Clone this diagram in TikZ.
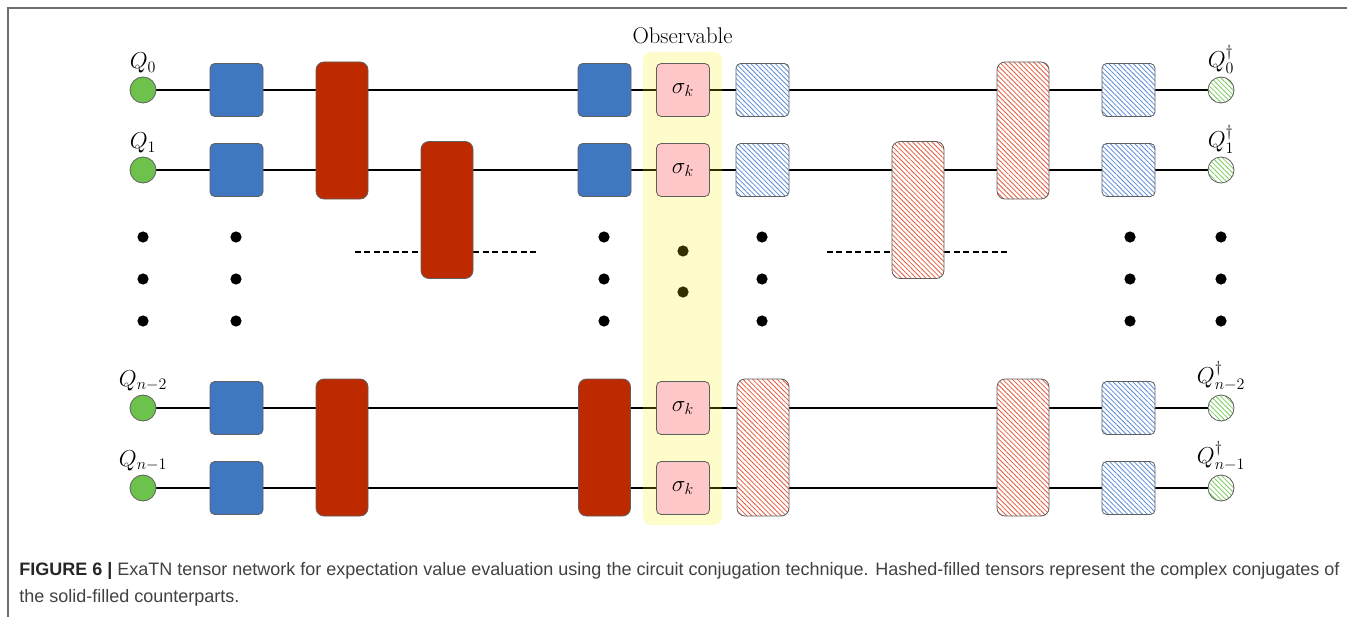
\documentclass[tikz,border=0pt]{standalone}
\usepackage{fontspec}
\setsansfont{Liberation Sans}
\usepackage{amsmath,amssymb}
\usepackage{tikz}
\usetikzlibrary{patterns.meta}
\definecolor{gateblue}{RGB}{63,120,192}
\definecolor{gatered}{RGB}{190,42,0}
\definecolor{qubitgreen}{RGB}{108,194,74}
\definecolor{sigmapink}{RGB}{255,200,200}
\definecolor{hashblue}{RGB}{90,140,215}
\definecolor{hashred}{RGB}{228,90,60}
\definecolor{hashgreen}{RGB}{120,205,90}
\definecolor{edgegray}{RGB}{95,95,95}
\definecolor{framegray}{RGB}{110,110,110}
\definecolor{captiongray}{RGB}{65,65,65}
\pgfdeclarelayer{wires}
\pgfdeclarelayer{obs}
\pgfsetlayers{wires,obs,main}

\begin{document}
\begin{tikzpicture}[x=0.75pt, y=-0.75pt,
    label distance=-1pt,
    every label/.append style={font=\LARGE},
    hatch/.style={preaction={fill=white},
        pattern={Lines[angle=-45, distance=2.6pt, line width=0.6pt]}},
    qubitbase/.style={circle, draw=edgegray, line width=0.6pt,
        minimum size=19.5pt, inner sep=0pt},
    qubit/.style={qubitbase, fill=qubitgreen},
    qubitconj/.style={qubitbase, hatch, pattern color=hashgreen},
    gatebase/.style={rectangle, draw=edgegray, line width=0.6pt,
        rounded corners=3.5pt, minimum width=39.75pt, minimum height=39.75pt, inner sep=0pt},
    gate/.style={gatebase, fill=gateblue},
    gateconj/.style={gatebase, hatch, pattern color=hashblue},
    sigmabox/.style={gatebase, fill=sigmapink, font=\LARGE},
    twobase/.style={rectangle, draw=edgegray, line width=0.6pt,
        rounded corners=6pt, minimum width=39pt, minimum height=102.75pt, inner sep=0pt},
    twogate/.style={twobase, fill=gatered},
    twogateconj/.style={twobase, hatch, pattern color=hashred},
    wire/.style={line width=1.4pt},
    dotline/.style={line width=1.4pt, dash pattern=on 4.5pt off 2.6pt},
    caption/.style={font=\sffamily\fontsize{13.5}{16}\selectfont, text=captiongray, inner sep=0pt}]

    \useasboundingbox (0,0) rectangle (1347,617);

    % Marco
    \draw[framegray, line width=1.2pt] (8,617) -- (8,8) -- (1347,8);

    % Qubits y compuertas de una fila
    \foreach \n/\y/\lab in {0/90/0, 1/170/1, 2/408/{n-2}, 3/488/{n-1}} {
        \node[qubit, label={above:$Q_{\lab}$}] (q\n) at (143,\y) {};
        \node[qubitconj, label={above:$Q^{\dagger}_{\lab}$}] (qc\n) at (1221,\y) {};
        \node[gate] (ga\n) at (236.5,\y) {};
        \node[sigmabox] (s\n) at (683,\y) {$\sigma_k$};
        \node[gateconj] (gd\n) at (1128.5,\y) {};
    }
    \foreach \n/\y in {0/90, 1/170} {
        \node[gate] (gb\n) at (604.5,\y) {};
        \node[gateconj] (gc\n) at (762.5,\y) {};
    }

    % Compuertas de dos filas
    \node[twogate] (ua) at (342,130.5) {};
    \node[twogate] (ub) at (342,447.5) {};
    \node[twogate] (uc) at (447,210) {};
    \node[twogate] (ud) at (604.5,447.5) {};
    \node[twogateconj] (va) at (763,447.5) {};
    \node[twogateconj] (vb) at (918,210) {};
    \node[twogateconj] (vc) at (1023,130.5) {};
    \node[twogateconj] (vd) at (1023,447.5) {};

    % Observable
    \node[font=\fontsize{17}{20}\selectfont] (obs) at (682.5,36) {Observable};
    \begin{pgfonlayer}{obs}
        \fill[yellow, opacity=0.2, rounded corners=6pt] (643,52) rectangle (722,525);
    \end{pgfonlayer}

    % Lineas, puntos y trazos
    \coordinate (dla) at (355,252);
    \coordinate (dlb) at (538,252);
    \coordinate (dlc) at (827,252);
    \coordinate (dld) at (1010,252);
    \begin{pgfonlayer}{wires}
        \foreach \n in {0,...,3}
            \draw[wire] (q\n) -- (qc\n);
        \foreach \x in {143,236,604,762,1130,1221}
            \foreach \y in {237,279,321}
                \fill (\x,\y) circle (4.2pt);
        \fill (683,251) circle (4.2pt);
        \fill (683,292) circle (4.2pt);
        \draw[dotline] (dla) -- (dla -| uc.west);
        \draw[dotline] (uc.east |- dlb) -- (dlb);
        \draw[dotline] (dlc) -- (dlc -| vb.west);
        \draw[dotline] (vb.east |- dld) -- (dld);
    \end{pgfonlayer}

    % Pie de figura
    \node[caption, anchor=base west] (cap1) at (19,575) {\textbf{\color{black!85}FIGURE 6 |} ExaTN tensor network for expectation value evaluation using the circuit conjugation technique. Hashed-filled tensors represent the complex conjugates of};
    \node[caption, anchor=base west] (cap2) at (19,602) {the solid-filled counterparts.};
\end{tikzpicture}
\end{document}
